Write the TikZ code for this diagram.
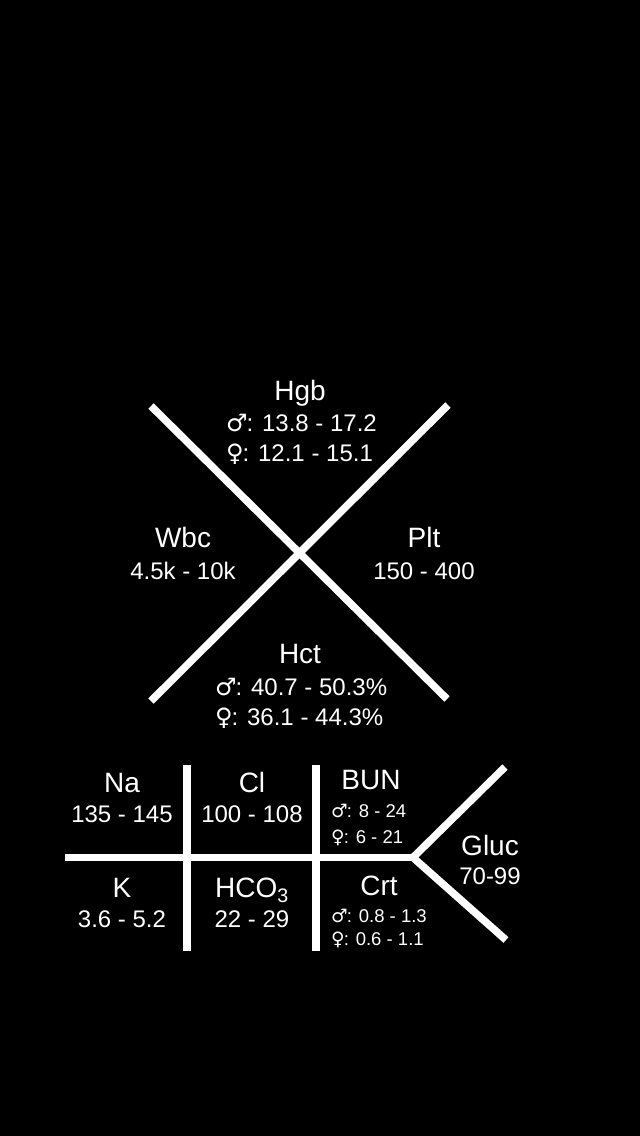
\documentclass[tikz,border=0pt]{standalone}
\usepackage{fontspec}
\setmainfont{Liberation Sans}
\newfontfamily\gendersym{DejaVu Sans}
\newcommand{\malesign}{{\gendersym ♂}\kern-0.05em}
\newcommand{\femalesign}{{\gendersym ♀}\kern-0.05em}
\usetikzlibrary{positioning}

\begin{document}
\begin{tikzpicture}[x=1pt, y=-1pt, % 以像素为单位，y 轴向下
  bar/.style={white, line width=7.5pt}, % 白色粗线
  itemname/.style={white, inner sep=0pt, anchor=base, font=\fontsize{28}{32}\selectfont}, % 项目名称
  valrange/.style={white, inner sep=0pt, anchor=base, font=\fontsize{24}{28}\selectfont}, % 参考范围
  sexrange/.style={white, inner sep=0pt, anchor=base west, font=\fontsize{24}{28}\selectfont}, % 分性别范围
  smallrange/.style={white, inner sep=0pt, anchor=base west, font=\fontsize{18.5}{22}\selectfont}] % 小号分性别范围
  \fill[black] (0,0) rectangle (640,1136); % 黑色背景
  \useasboundingbox (0,0) rectangle (640,1136); % 固定画布大小

  % 血常规（交叉图）
  \begin{scope}
    \coordinate (TL) at (151,406); % 左上端点
    \coordinate (BR) at (447,699); % 右下端点
    \coordinate (TR) at (448,405); % 右上端点
    \coordinate (BL) at (151,701); % 左下端点
    \draw[bar] (TL) -- (BR); % 第一条斜线
    \draw[bar] (TR) -- (BL); % 第二条斜线

    \node[itemname] (hgb) at (300,400) {Hgb}; % 上方
    \node[sexrange] (hgbM) at (226,431) {\malesign: 13.8 - 17.2};
    \node[sexrange] (hgbF) at (226,461) {\femalesign: 12.1 - 15.1};

    \node[itemname] (wbc) at (183,547) {Wbc}; % 左方
    \node[valrange] (wbcR) at (183,579) {4.5k - 10k};

    \node[itemname] (plt) at (424,547) {Plt}; % 右方
    \node[valrange] (pltR) at (424,579) {150 - 400};

    \node[itemname] (hct) at (300,663) {Hct}; % 下方
    \node[sexrange] (hctM) at (215,695) {\malesign: 40.7 - 50.3\%};
    \node[sexrange] (hctF) at (215,725) {\femalesign: 36.1 - 44.3\%};
  \end{scope}

  % 生化（鱼骨图）
  \begin{scope}
    \coordinate (HL) at (65,857.5); % 横线左端
    \coordinate (HR) at (413,857.5); % 横线右端，分叉点
    \coordinate (V1T) at (187,765); % 第一条竖线
    \coordinate (V1B) at (187,951);
    \coordinate (V2T) at (316,765); % 第二条竖线
    \coordinate (V2B) at (316,951);
    \coordinate (GT) at (505,767); % 分叉上端
    \coordinate (GB) at (506,940); % 分叉下端
    \draw[bar] (HL) -- (HR);
    \draw[bar] (V1T) -- (V1B);
    \draw[bar] (V2T) -- (V2B);
    \draw[bar] (GT) -- (HR) -- (GB); % 血糖分叉

    \node[itemname] (na) at (122,792) {Na};
    \node[valrange] (naR) at (122,822) {135 - 145};
    \node[itemname] (cl) at (252,792) {Cl};
    \node[valrange] (clR) at (252,822) {100 - 108};
    \node[itemname] (bun) at (371,789) {BUN};
    \node[smallrange] (bunM) at (331,817) {\malesign: 8 - 24};
    \node[smallrange] (bunF) at (331,843) {\femalesign: 6 - 21};

    \node[itemname] (k) at (122,897) {K};
    \node[valrange] (kR) at (122,927) {3.6 - 5.2};
    \node[itemname] (hco) at (252,897) {HCO\textsubscript{3}};
    \node[valrange] (hcoR) at (252,927) {22 - 29};
    \node[itemname] (crt) at (379,895) {Crt};
    \node[smallrange] (crtM) at (331,922) {\malesign: 0.8 - 1.3};
    \node[smallrange] (crtF) at (331,945) {\femalesign: 0.6 - 1.1};

    \node[itemname] (gluc) at (490,855) {Gluc};
    \node[valrange] (glucR) at (490,884) {70-99};
  \end{scope}
\end{tikzpicture}
\end{document}
